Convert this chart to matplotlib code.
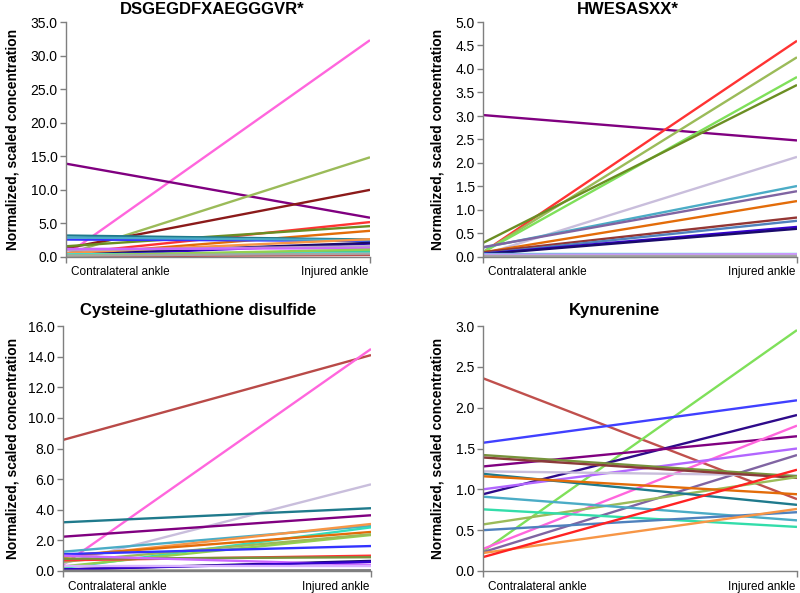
import matplotlib
matplotlib.use("Agg")
import matplotlib.pyplot as plt

plt.rcParams['font.family'] = ['Liberation Sans', 'DejaVu Sans']

categories = ["Contralateral ankle", "Injured ankle"]
ylabel_text = "Normalized, scaled concentration"

# Panel 1: DSGEGDFXAEGGGVR*
p1_title = "DSGEGDFXAEGGGVR*"
p1_contra = [0.3, 13.9, 0.4, 1.3, 0.5, 1.6, 0.3, 3.2, 2.6, 2.9, 0.2, 0.5, 0.6, 1.0, 1.2, 0.1, 0.4, 0.1, 0.2, 0.2]
p1_injured = [32.3, 5.85, 14.85, 10.0, 5.2, 4.6, 3.9, 2.6, 2.4, 2.5, 2.0, 2.1, 2.65, 1.6, 1.3, 0.9, 0.6, 0.3, 1.1, 0.5]
p1_colors = ["#FF66DD", "#800080", "#9BBB59", "#8B1A1A", "#FF3333", "#6B8E23", "#E36C09",
             "#1F7A8C", "#3333FF", "#4BACC6", "#3300CC", "#1A0A6B", "#F79646", "#B3A2C7",
             "#CC66FF", "#33CC99", "#40E0D0", "#C0504D", "#92D050", "#A6A6A6"]

# Panel 2: HWESASXX*
p2_title = "HWESASXX*"
p2_contra = [3.02, 0.1, 0.1, 0.1, 0.3, 0.05, 0.2, 0.21, 0.1, 0.1, 0.07, 0.07, 0.06, 0.07, 0.05, 0.02]
p2_injured = [2.48, 4.6, 4.25, 3.83, 3.66, 2.13, 1.51, 1.40, 1.19, 0.84, 0.77, 0.64, 0.60, 0.07, 0.06, 0.02]
p2_colors = ["#800080", "#FF3333", "#9BBB59", "#7FE05A", "#6B8E23", "#C9BEDC", "#4BACC6", "#8064A2",
             "#E36C09", "#943634", "#4F81BD", "#3300CC", "#1A0A6B", "#33CCCC", "#CC99FF", "#A6A6A6"]

# Panel 3: Cysteine-glutathione disulfide
p3_title = "Cysteine-glutathione disulfide"
p3_contra = [8.56, 0.4, 0.5, 3.18, 2.24, 1.26, 0.2, 0.9, 1.0, 0.3, 0.6, 1.1, 0.7, 0.8, 0.1, 1.0, 0.1, 0.02, 0.3]
p3_injured = [14.1, 14.5, 5.66, 4.1, 3.64, 2.94, 2.85, 3.07, 2.55, 2.35, 2.4, 1.63, 1.0, 0.9, 0.66, 0.4, 0.6, 0.05, 0.3]
p3_colors = ["#B94A48", "#FF66DD", "#C9BEDC", "#1F7A8C", "#800080", "#4BACC6", "#33DDBB", "#F79646",
             "#E36C09", "#92D050", "#9BBB59", "#3333FF", "#FF3333", "#77933C", "#1A0A6B", "#CC66FF",
             "#3300CC", "#7F7F7F", "#D9B3FF"]

# Panel 4: Kynurenine
p4_title = "Kynurenine"
p4_contra = [2.36, 0.24, 1.57, 0.94, 1.28, 0.27, 1.0, 0.23, 1.22, 1.42, 1.39, 0.57, 1.19, 1.16, 0.91, 0.755, 0.50, 0.22, 0.17]
p4_injured = [0.88, 2.95, 2.09, 1.91, 1.65, 1.78, 1.50, 1.42, 1.17, 1.16, 1.14, 1.15, 0.81, 0.94, 0.62, 0.54, 0.72, 0.76, 1.24]
p4_colors = ["#C0504D", "#7FE05A", "#4040FF", "#2E0A8A", "#800080", "#FF66DD", "#B266FF", "#8064A2",
             "#C9BEDC", "#77933C", "#8B3A3A", "#9BBB59", "#1F7A8C", "#E36C09", "#4BACC6", "#33DDAA",
             "#4F81BD", "#F79646", "#FF2222"]

W, H = 800, 593
fig = plt.figure(figsize=(W / 100, H / 100), dpi=100)


def px_axes(l, r, t, b):
    return fig.add_axes([l / W, 1 - b / H, (r - l) / W, (b - t) / H])


panels = [
    (p1_title, p1_contra, p1_injured, p1_colors, (66, 370, 22, 257), 35.0, 5.0, (212, 9), 13),
    (p2_title, p2_contra, p2_injured, p2_colors, (483, 797, 22, 257), 5.0, 0.5, (628, 9), 437),
    (p3_title, p3_contra, p3_injured, p3_colors, (63, 371, 326, 571), 16.0, 2.0, (198, 311), 13),
    (p4_title, p4_contra, p4_injured, p4_colors, (483, 797, 326, 571), 3.0, 0.5, (615, 311), 437),
]

axis_col = "#7F7F7F"
for title, c, i, cols, (l, r, t, b), ymax, step, (tx, ty), ylx in panels:
    ax = px_axes(l, r, t, b)
    for v0, v1, col in zip(c, i, cols):
        ax.plot([0, 1], [v0, v1], color=col, lw=1.7, solid_capstyle='butt')
    ax.set_xlim(0, 1)
    ax.set_ylim(0, ymax)
    n = int(round(ymax / step))
    ax.set_yticks([k * step for k in range(n + 1)])
    ax.set_yticklabels([f"{k * step:.1f}" for k in range(n + 1)], fontsize=10)
    ax.set_xticks([0, 1])
    ax.set_xticklabels([])
    for sp in ["top", "right"]:
        ax.spines[sp].set_visible(False)
    for sp in ["left", "bottom"]:
        ax.spines[sp].set_color(axis_col)
        ax.spines[sp].set_linewidth(1.0)
    ax.tick_params(axis='y', length=4, width=1, color=axis_col, pad=2, labelcolor='black')
    ax.tick_params(axis='x', length=4, width=1, color=axis_col)
    ax.text(0.015, -0.04, categories[0], transform=ax.transAxes, ha='left', va='top', fontsize=8.5)
    ax.text(0.995, -0.04, categories[1], transform=ax.transAxes, ha='right', va='top', fontsize=8.5)
    fig.text(tx / W, 1 - ty / H, title, ha='center', va='center', fontsize=12, fontweight='bold')
    fig.text(ylx / W, 1 - ((t + b) / 2) / H, ylabel_text, rotation=90, ha='center', va='center',
             fontsize=10, fontweight='bold')

fig.savefig("out.png", dpi=100)
